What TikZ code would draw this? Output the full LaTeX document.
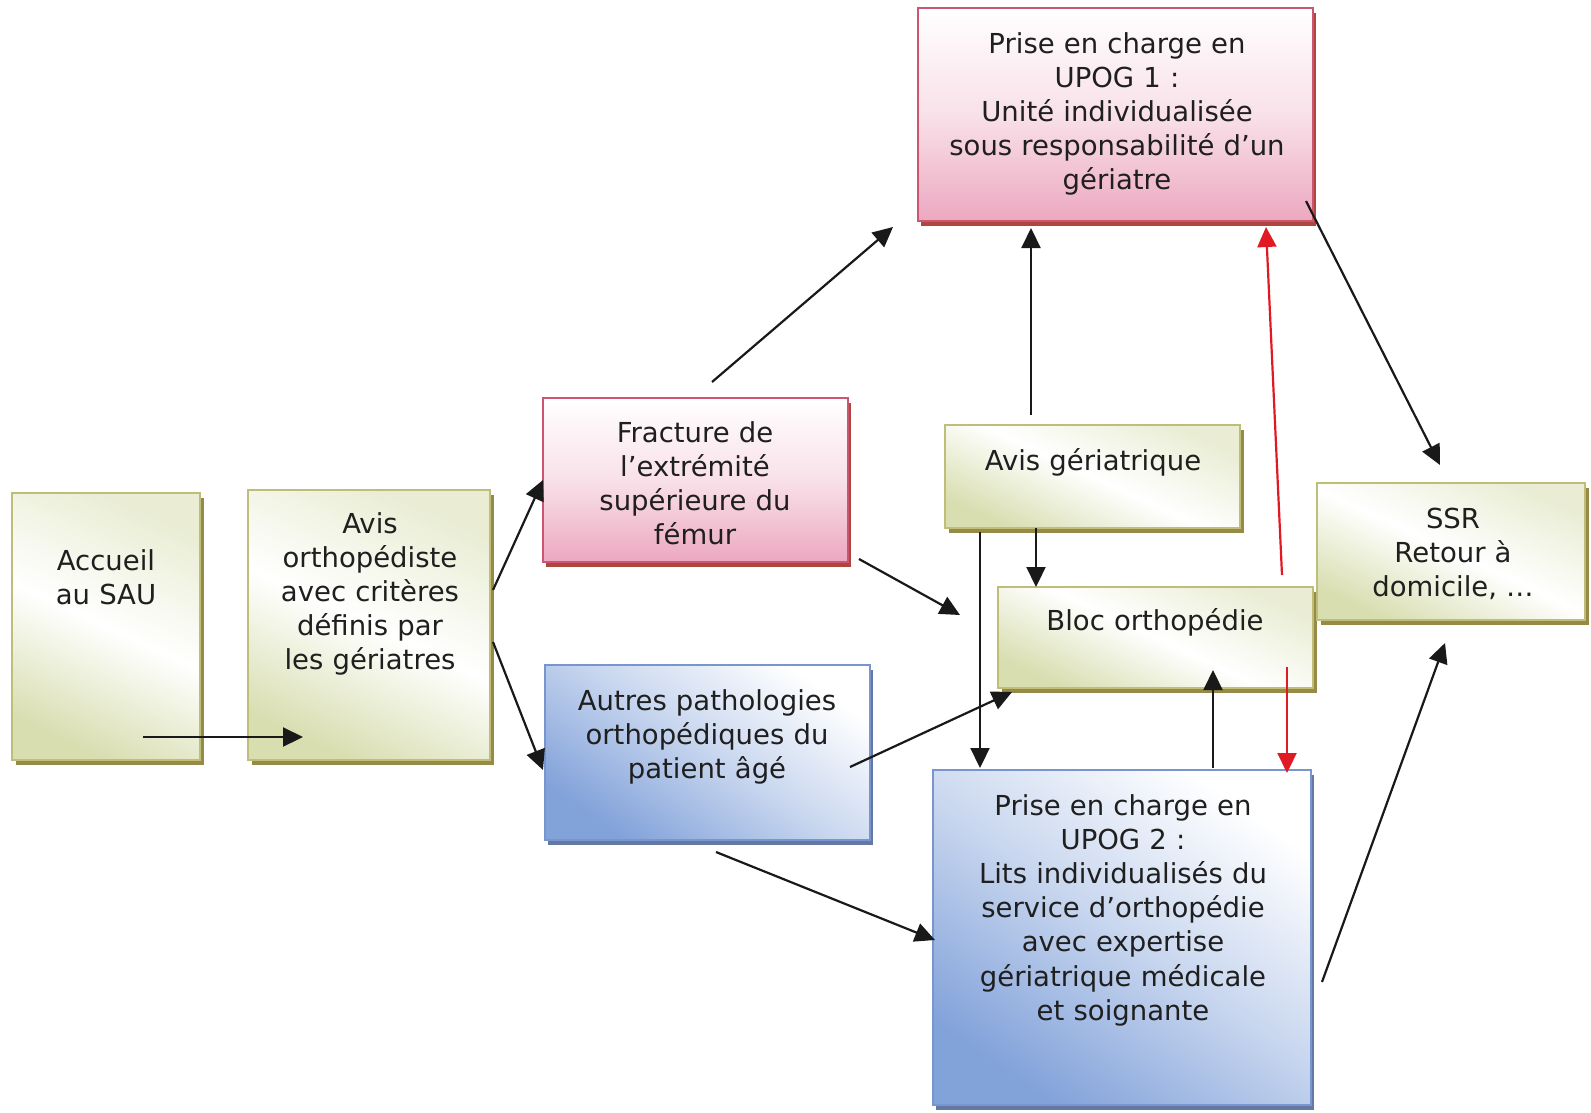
\documentclass[tikz,border=0pt]{standalone}
\usepackage{fontspec}
\setmainfont{DejaVu Sans}
\usetikzlibrary{arrows.meta,shadows}
\definecolor{gfill}{RGB}{216,222,176}
\definecolor{gline}{RGB}{190,190,120}
\definecolor{gshadow}{RGB}{150,138,70}
\definecolor{pfill}{RGB}{236,168,192}
\definecolor{pline}{RGB}{205,85,115}
\definecolor{pshadow}{RGB}{175,70,60}
\definecolor{bfill}{RGB}{130,162,218}
\definecolor{bline}{RGB}{120,150,205}
\definecolor{bshadow}{RGB}{100,120,165}
\definecolor{redarrow}{RGB}{225,25,35}
\begin{document}
\begin{tikzpicture}[x=1pt,y=-1pt,
  boxbase/.style={rectangle, inner sep=0pt, outer sep=0pt, anchor=north west, line width=1.4pt},
  greenbox/.style={boxbase, draw=gline, top color=gfill!55!white, bottom color=gfill, middle color=white, shading angle=-25,
     general shadow={fill=gshadow, shadow xshift=4pt, shadow yshift=-5pt}},
  pinkbox/.style={boxbase, draw=pline, top color=white, bottom color=pfill, middle color=pfill!35!white,
     general shadow={fill=pshadow, shadow xshift=3pt, shadow yshift=-5pt}},
  bluebox/.style={boxbase, draw=bline, top color=white, bottom color=bfill, middle color=bfill!45!white, shading angle=-35,
     general shadow={fill=bshadow, shadow xshift=3pt, shadow yshift=-5pt}},
  txt/.style={text width=420pt, align=center, inner sep=0pt, anchor=base,
     font=\fontsize{27.5}{34.2}\selectfont, text=black!88},
  conn/.style={line width=2.2pt, black!90, -{Triangle[length=20pt,width=19pt]}},
  redconn/.style={conn, redarrow}
]
\useasboundingbox (0,0) rectangle (1591,1112);
\fill[white] (0,0) rectangle (1591,1112);

% boxes
\node[greenbox, minimum width=188pt, minimum height=267pt] (acc) at (12,493) {};
\node[greenbox, minimum width=242pt, minimum height=270pt] (avo) at (248,490) {};
\node[pinkbox, minimum width=305pt, minimum height=164pt] (fra) at (543,398) {};
\node[bluebox, minimum width=325pt, minimum height=175pt] (aut) at (545,665) {};
\node[pinkbox, minimum width=395pt, minimum height=213pt] (up1) at (918,8) {};
\node[greenbox, minimum width=295pt, minimum height=103pt] (avg) at (945,425) {};
\node[greenbox, minimum width=315pt, minimum height=101pt] (bloc) at (998,587) {};
\node[bluebox, minimum width=378pt, minimum height=335pt] (up2) at (933,770) {};
\node[greenbox, minimum width=268pt, minimum height=137pt] (ssr) at (1317,483) {};

% texts
\node[txt] (accT) at (106,570) {Accueil\\au SAU};
\node[txt] (avoT) at (370,533) {Avis\\orthopédiste\\avec critères\\définis par\\les gériatres};
\node[txt] (fraT) at (695,442) {Fracture de\\l’extrémité\\supérieure du\\fémur};
\node[txt] (autT) at (707,710) {Autres pathologies\\orthopédiques du\\patient âgé};
\node[txt] (up1T) at (1117,53) {Prise en charge en\\UPOG 1 :\\Unité individualisée\\sous responsabilité d’un\\gériatre};
\node[txt] (avgT) at (1093,470) {Avis gériatrique};
\node[txt] (blocT) at (1155,630) {Bloc orthopédie};
\node[txt] (up2T) at (1123,815) {Prise en charge en\\UPOG 2 :\\Lits individualisés du\\service d’orthopédie\\avec expertise\\gériatrique médicale\\et soignante};
\node[txt] (ssrT) at (1453,528) {SSR\\Retour à\\domicile, …};

% connector end points
\coordinate (a1s) at (143,737);  \coordinate (a1e) at (303,737);
\coordinate (a2s) at (493,590);  \coordinate (a2e) at (543,480);
\coordinate (a3s) at (493,642);  \coordinate (a3e) at (543,770);
\coordinate (a4s) at (712,382);  \coordinate (a4e) at (893,227);
\coordinate (a5s) at (859,559);  \coordinate (a5e) at (960,615);
\coordinate (a6s) at (850,767);  \coordinate (a6e) at (1012,692);
\coordinate (a7s) at (716,852);  \coordinate (a7e) at (935,940);
\coordinate (a8s) at (1031,415); \coordinate (a8e) at (1031,228);
\coordinate (a9s) at (1036,528); \coordinate (a9e) at (1036,587);
\coordinate (a10s) at (980,532); \coordinate (a10e) at (980,768);
\coordinate (a11s) at (1213,768); \coordinate (a11e) at (1213,670);
\coordinate (a12s) at (1282,575); \coordinate (a12e) at (1266,227);
\coordinate (a13s) at (1287,667); \coordinate (a13e) at (1287,773);
\coordinate (a14s) at (1306,201); \coordinate (a14e) at (1440,465);
\coordinate (a15s) at (1322,982); \coordinate (a15e) at (1445,643);

\draw[conn] (a1s) -- (a1e);
\draw[conn] (a2s) -- (a2e);
\draw[conn] (a3s) -- (a3e);
\draw[conn] (a4s) -- (a4e);
\draw[conn] (a5s) -- (a5e);
\draw[conn] (a6s) -- (a6e);
\draw[conn] (a7s) -- (a7e);
\draw[conn] (a8s) -- (a8e);
\draw[conn] (a9s) -- (a9e);
\draw[conn] (a10s) -- (a10e);
\draw[conn] (a11s) -- (a11e);
\draw[redconn] (a12s) -- (a12e);
\draw[redconn] (a13s) -- (a13e);
\draw[conn] (a14s) -- (a14e);
\draw[conn] (a15s) -- (a15e);
\end{tikzpicture}
\end{document}
